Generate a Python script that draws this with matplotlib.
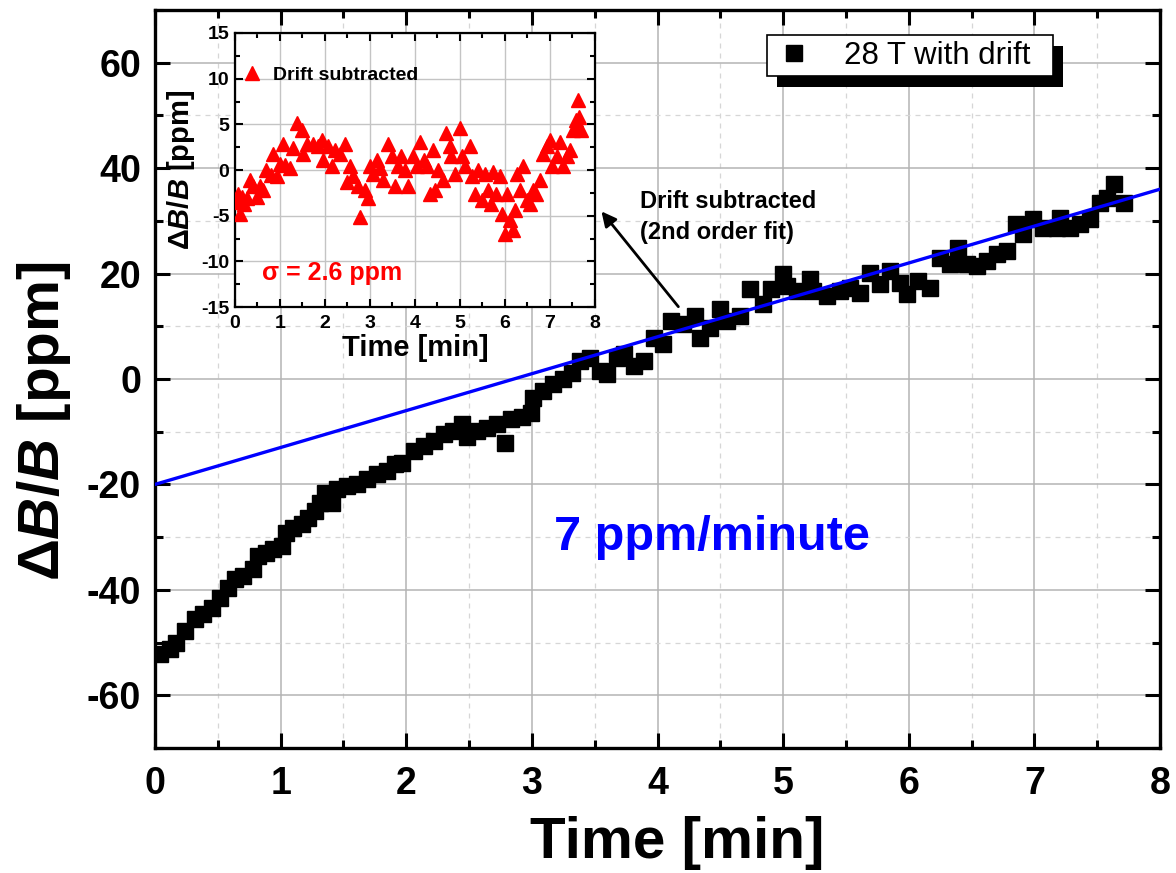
import matplotlib
matplotlib.use("Agg")
import matplotlib.pyplot as plt
from matplotlib.ticker import MultipleLocator
from matplotlib.patches import Rectangle

plt.rcParams['font.family'] = ['Liberation Sans', 'DejaVu Sans']
plt.rcParams['mathtext.fontset'] = 'custom'
plt.rcParams['mathtext.it'] = 'Liberation Sans:italic:bold'
plt.rcParams['mathtext.rm'] = 'Liberation Sans:bold'
plt.rcParams['mathtext.bf'] = 'Liberation Sans:bold'
plt.rcParams['axes.unicode_minus'] = False

# ---------------- data: main series (28 T with drift) ----------------
main_t = [0.04, 0.12, 0.17, 0.24, 0.32, 0.38, 0.45, 0.52, 0.58, 0.64, 0.70, 0.78,
          0.82, 0.88, 0.94, 1.01, 1.04, 1.10, 1.17, 1.22, 1.27, 1.31, 1.35, 1.41,
          1.45, 1.53, 1.61, 1.69, 1.77, 1.85, 1.91, 1.97, 2.06, 2.14, 2.22, 2.30,
          2.37, 2.44, 2.48, 2.56, 2.64, 2.72, 2.79, 2.83, 2.92, 2.99, 3.01, 3.09,
          3.17, 3.25, 3.32, 3.38, 3.46, 3.54, 3.60, 3.68, 3.73, 3.81, 3.89, 3.97,
          4.04, 4.11, 4.20, 4.30, 4.34, 4.42, 4.50, 4.55, 4.66, 4.74, 4.84, 4.90,
          5.00, 5.03, 5.11, 5.21, 5.24, 5.35, 5.45, 5.53, 5.61, 5.69, 5.77, 5.85,
          5.93, 5.99, 6.07, 6.17, 6.25, 6.33, 6.39, 6.46, 6.54, 6.62, 6.70, 6.78,
          6.85, 6.91, 6.99, 7.07, 7.18, 7.20, 7.28, 7.36, 7.44, 7.52, 7.58, 7.63,
          7.71]
main_v = [-52.1, -51.2, -50.0, -47.8, -45.5, -44.6, -43.4, -41.5, -39.6, -37.9, -37.3, -36.0,
          -33.6, -33.0, -32.2, -31.7, -29.2, -28.2, -27.5, -26.4, -25.0, -23.5, -21.6, -23.5,
          -20.9, -20.3, -19.9, -19.0, -18.0, -17.4, -16.1, -16.0, -13.6, -12.7, -11.8, -10.5,
          -9.9, -8.6, -11.1, -9.9, -9.3, -8.6, -12.1, -7.6, -7.3, -6.4, -3.6, -2.3,
          -1.0, 0.0, 1.1, 3.4, 4.0, 1.5, 0.9, 4.0, 4.7, 2.5, 3.4, 7.8,
          6.6, 11.0, 10.4, 11.9, 7.8, 9.7, 13.3, 11.0, 11.9, 17.0, 14.2, 17.0,
          19.9, 17.6, 16.7, 19.0, 16.7, 15.7, 16.7, 17.3, 16.3, 20.1, 18.0, 20.5,
          18.2, 16.1, 18.6, 17.3, 22.9, 21.8, 24.8, 21.8, 21.4, 22.4, 23.7, 24.3,
          29.4, 27.5, 30.3, 28.6, 28.6, 30.5, 28.6, 29.4, 30.3, 33.4, 34.3, 37.0,
          33.4]

# linear drift fit (7 ppm/minute)
fit_slope = 7.0
fit_intercept = -20.0
fit_range = [0.0, 8.0]

# ---------------- data: inset (drift subtracted) ----------------
ins_t = [0.05, 0.07, 0.11, 0.15, 0.19, 0.26, 0.33, 0.41, 0.48, 0.56, 0.63, 0.70,
         0.81, 0.85, 0.93, 1.00, 1.07, 1.11, 1.22, 1.30, 1.37, 1.48, 1.52, 1.59,
         1.74, 1.85, 1.93, 1.96, 2.07, 2.15, 2.22, 2.33, 2.44, 2.48, 2.56, 2.63,
         2.74, 2.78, 2.89, 2.96, 3.00, 3.07, 3.15, 3.22, 3.30, 3.41, 3.48, 3.56,
         3.63, 3.70, 3.78, 3.85, 3.96, 4.04, 4.11, 4.19, 4.26, 4.33, 4.41, 4.44,
         4.52, 4.63, 4.70, 4.78, 4.81, 4.89, 5.00, 5.04, 5.11, 5.22, 5.26, 5.33,
         5.41, 5.48, 5.56, 5.63, 5.70, 5.74, 5.81, 5.89, 5.93, 6.00, 6.04, 6.11,
         6.19, 6.22, 6.26, 6.33, 6.41, 6.48, 6.56, 6.63, 6.70, 6.78, 6.85, 6.93,
         7.00, 7.04, 7.15, 7.22, 7.30, 7.37, 7.44, 7.52, 7.55, 7.59, 7.63, 7.65,
         7.70]
ins_v = [-3.5, -2.6, -4.8, -3.0, -3.7, -3.1, -1.1, -1.8, -2.9, -1.7, -2.2, 0.0,
         -0.5, 1.7, -0.7, 0.7, 2.9, 0.5, 0.2, 2.4, 5.1, 4.4, 1.8, 2.9,
         2.9, 2.6, 3.3, 1.1, 2.6, 0.4, 2.2, 1.8, 2.9, -1.3, 0.4, -0.7,
         -1.8, -5.1, -2.2, -3.1, 0.4, -0.4, 1.1, 0.2, -1.1, 2.9, 1.5, -1.8,
         0.4, 1.5, 0.0, -1.8, 1.5, 0.4, 3.1, 1.1, 0.4, -2.6, 2.2, -2.2,
         0.0, -1.1, 4.0, 2.6, 1.5, -0.4, 4.6, 1.5, 0.4, 2.6, -0.7, -2.6,
         0.0, -3.3, -0.4, -2.2, -3.7, -0.2, -2.6, -0.7, -4.8, -7.0, -2.6, -5.5,
         -6.6, -4.4, -0.4, -2.2, 0.4, -3.3, -3.7, -2.2, -2.6, -1.1, 1.8, 2.6,
         3.3, 0.4, 1.5, 3.1, 0.4, 1.5, 2.2, 4.4, 4.5, 5.5, 7.7, 5.8,
         4.4]
sigma_text = "σ = 2.6 ppm"

# ---------------- figure ----------------
fig = plt.figure(figsize=(11.76, 8.73), dpi=100)
ax = fig.add_axes([0.1318, 0.1432, 0.8546, 0.8454])

ax.plot(main_t, main_v, 's', color='black', ms=11.5, zorder=3, label='28 T with drift  ')
ax.plot(fit_range, [fit_intercept + fit_slope * x for x in fit_range],
        '-', color='#0000ff', lw=2.4, zorder=4)

ax.set_xlim(0, 8)
ax.set_ylim(-70, 70)
ax.xaxis.set_major_locator(MultipleLocator(1))
ax.xaxis.set_minor_locator(MultipleLocator(0.5))
ax.yaxis.set_major_locator(MultipleLocator(20))
ax.yaxis.set_minor_locator(MultipleLocator(10))
ax.grid(True, which='major', color='#b4b4b4', lw=1.1, ls='-', zorder=0)
ax.grid(True, which='minor', color='#d6d6d6', lw=0.9, ls=(0, (4, 4)), zorder=0)
ax.set_axisbelow(True)
for s in ax.spines.values():
    s.set_linewidth(2.4)
ax.tick_params(which='both', direction='in', top=True, right=True, width=2.2)
ax.tick_params(which='major', length=11)
ax.tick_params(which='minor', length=6)
ax.tick_params(axis='y', which='major', labelsize=27, pad=10)
ax.tick_params(axis='x', which='major', labelsize=27, pad=13)
ax.set_yticks([-60, -40, -20, 0, 20, 40, 60])
for lab in ax.get_xticklabels() + ax.get_yticklabels():
    lab.set_fontweight('bold')

ax.text(0.52, -0.149, 'Time [min]', transform=ax.transAxes, ha='center', va='baseline',
        fontsize=42, fontweight='bold')
ax.text(-0.110, 0.443, r'$\mathit{ΔB/B}$ [ppm]', transform=ax.transAxes,
        ha='center', va='center', rotation=90, fontsize=42, fontweight='bold')

ax.text(4.43, -30.1, '7 ppm/minute', color='#0000ff', fontsize=35, fontweight='bold',
        ha='center', va='center')

ax.annotate('', xy=(3.54, 32.2), xytext=(4.18, 13.3),
            arrowprops=dict(arrowstyle='-|>', color='black', lw=2.0, mutation_scale=22))
ax.text(3.86, 30.7, 'Drift subtracted\n(2nd order fit)', fontsize=17, fontweight='bold',
        ha='left', va='center', linespacing=1.45)

leg = ax.legend(loc='upper right', bbox_to_anchor=(0.894, 0.966), fontsize=22.5,
                frameon=True, fancybox=False, edgecolor='black', framealpha=1,
                handlelength=1.4, handletextpad=0.9, borderpad=0.18, borderaxespad=0)
leg.get_frame().set_linewidth(1.2)
leg.set_zorder(7)

# ---------------- inset ----------------
axi = fig.add_axes([0.1998, 0.6483, 0.3061, 0.3139])
axi.plot(ins_t, ins_v, '^', color='#ff0000', ms=9.5, lw=0, label='Drift subtracted', zorder=3)
axi.set_xlim(0, 8)
axi.set_ylim(-15, 15)
axi.xaxis.set_major_locator(MultipleLocator(1))
axi.xaxis.set_minor_locator(MultipleLocator(0.5))
axi.yaxis.set_major_locator(MultipleLocator(5))
axi.yaxis.set_minor_locator(MultipleLocator(2.5))
axi.grid(True, which='major', color='#c4c4c4', lw=1.0, zorder=0)
axi.set_axisbelow(True)
for s in axi.spines.values():
    s.set_linewidth(1.6)
axi.tick_params(which='both', direction='in', top=True, right=True, width=1.5)
axi.tick_params(which='major', length=6)
axi.tick_params(which='minor', length=3.5)
axi.tick_params(axis='y', which='major', labelsize=14, pad=4)
axi.tick_params(axis='x', which='major', labelsize=14, pad=6)
for lab in axi.get_xticklabels() + axi.get_yticklabels():
    lab.set_fontweight('bold')
axi.set_xlabel('Time [min]', fontsize=21, fontweight='bold', labelpad=1)
axi.set_ylabel(r'$\mathit{ΔB/B}$ [ppm]', fontsize=21, fontweight='bold', labelpad=3)
axi.legend(loc='center left', bbox_to_anchor=(0.02, 0.847), frameon=False,
           prop=dict(size=14, weight='bold'), handlelength=1.0, handletextpad=0.6,
           borderaxespad=0, borderpad=0)
axi.text(0.6, -11.3, sigma_text, color='#ff0000', fontsize=18, fontweight='bold',
         ha='left', va='center')

# legend shadow (black, offset)
fig.canvas.draw()
bb = leg.get_window_extent().transformed(fig.transFigure.inverted())
dx, dy = 10 / 1176, 11 / 873
ax.add_patch(Rectangle((bb.x0 + dx, bb.y0 - dy), bb.width, bb.height,
                       transform=fig.transFigure, facecolor='black',
                       edgecolor='none', zorder=6, clip_on=False))

fig.savefig('out.png', dpi=100, facecolor='white')
